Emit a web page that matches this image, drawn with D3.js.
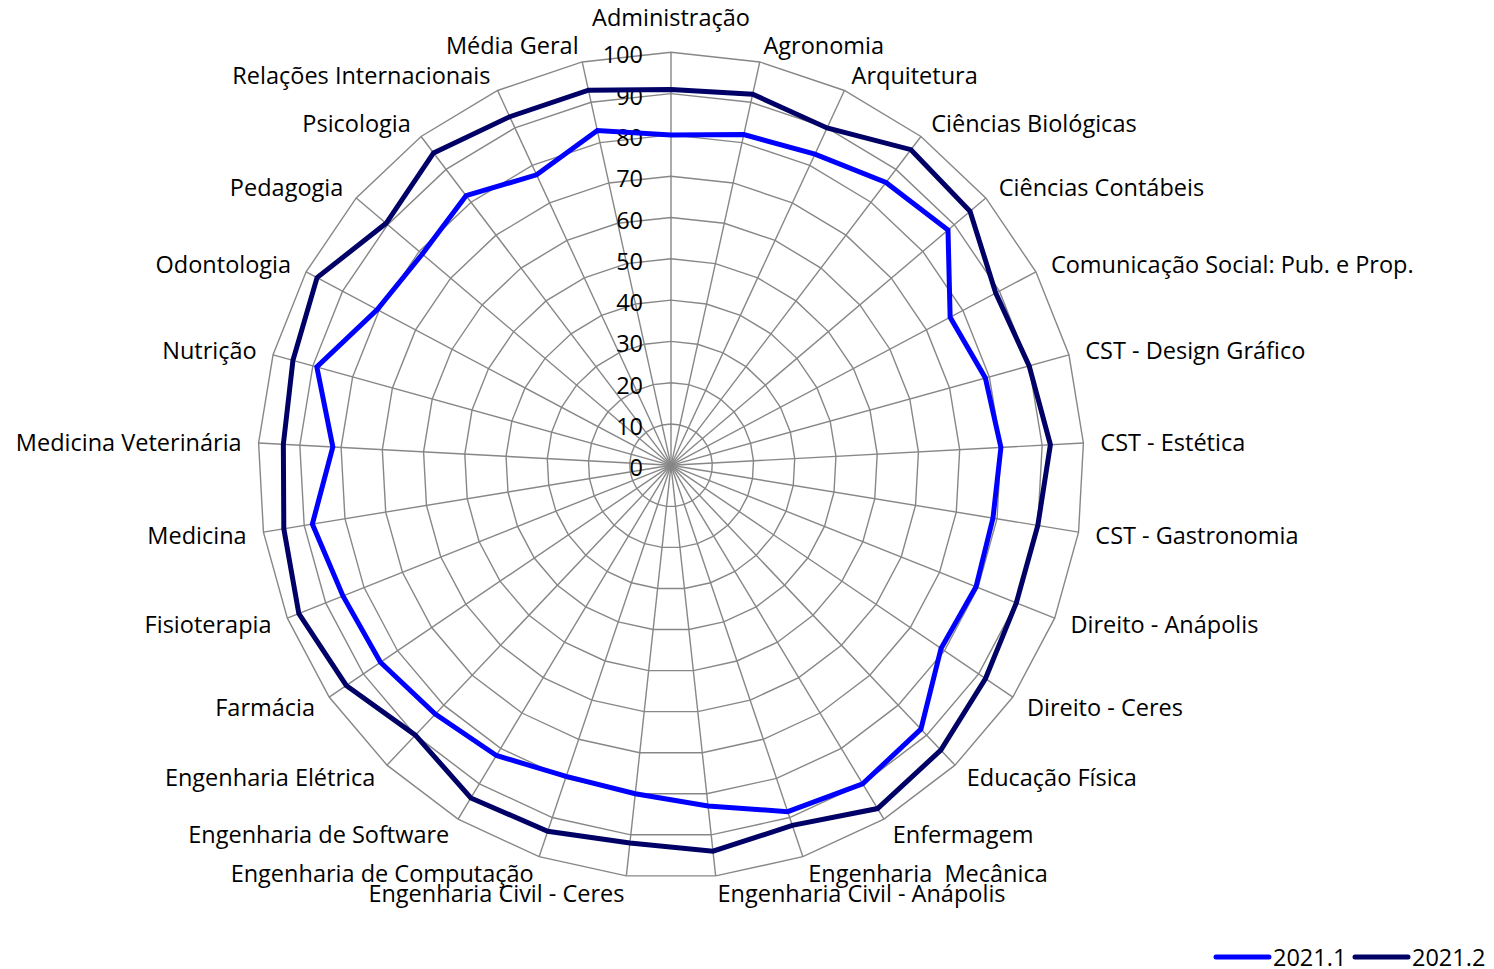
<!DOCTYPE html>
<html lang="pt">
<head>
<meta charset="utf-8">
<script src="https://cdn.jsdelivr.net/npm/d3@7"></script>
<style>
  html, body { margin: 0; padding: 0; background: #ffffff; }
  svg { display: block; }
  text { font-family: "Open Sans", "Noto Sans", sans-serif; fill: #000; white-space: pre; }
</style>
</head>
<body>
<svg id="chart" width="1494" height="969"></svg>
<script>
// Cursos avaliados (eixos do radar, no sentido horário a partir do topo)
const categories = [
  "Administração", "Agronomia", "Arquitetura", "Ciências Biológicas",
  "Ciências Contábeis", "Comunicação Social: Pub. e Prop.", "CST - Design Gráfico",
  "CST - Estética", "CST - Gastronomia", "Direito - Anápolis", "Direito - Ceres",
  "Educação Física", "Enfermagem", "Engenharia  Mecânica", "Engenharia Civil - Anápolis",
  "Engenharia Civil - Ceres", "Engenharia de Computação", "Engenharia de Software",
  "Engenharia Elétrica", "Farmácia", "Fisioterapia", "Medicina", "Medicina Veterinária",
  "Nutrição", "Odontologia", "Pedagogia", "Psicologia", "Relações Internacionais",
  "Média Geral"
];

// Índices por semestre
const values2021_1 = [
  80, 82, 83, 86, 88, 76.5, 79, 80, 79, 79.5, 79, 88, 90, 88.5, 83,
  80, 79.5, 82, 83, 85, 85.5, 88, 82, 89, 80.5, 79, 82, 77.5, 83
];
const values2021_2 = [
  91, 92, 90, 96, 95, 89, 90, 92, 90, 90, 92, 95, 97, 92, 94,
  92, 93.5, 94, 90, 95, 97, 95, 94, 95, 97, 90.5, 95, 93, 93
];

const seriesNames = ["2021.1", "2021.2"];
const seriesColors = ["#0000ff", "#000066"];
const tickValues = [0, 10, 20, 30, 40, 50, 60, 70, 80, 90, 100];

const svg = d3.select("#chart");
const width = 1494, height = 969;
svg.append("rect").attr("width", width).attr("height", height).attr("fill", "#ffffff");

const cx = 671, cy = 465.3, R = 413;
const N = categories.length;
const fontSize = 23.5;

const rScale = d3.scaleLinear().domain([0, 100]).range([0, R]);
const aScale = d3.scaleLinear().domain([0, N]).range([0, 2 * Math.PI]);

const g = svg.append("g").attr("transform", `translate(${cx},${cy})`);

const pt = (i, v) => {
  const a = aScale(i), r = rScale(v);
  return [r * Math.sin(a), -r * Math.cos(a)];
};

// Grade: polígonos concêntricos
const grid = g.append("g").attr("class", "grid");
tickValues.filter(t => t > 0).forEach(t => {
  const ring = d3.range(N).map(i => pt(i, t));
  grid.append("path")
    .attr("d", d3.line().curve(d3.curveLinearClosed)(ring))
    .attr("fill", "none")
    .attr("stroke", "#878787")
    .attr("stroke-width", 1.4);
});

// Raios
d3.range(N).forEach(i => {
  const [x, y] = pt(i, 100);
  grid.append("line")
    .attr("x1", 0).attr("y1", 0).attr("x2", x).attr("y2", y)
    .attr("stroke", "#878787")
    .attr("stroke-width", 1.4);
});

// Rótulos do eixo radial
g.append("g").selectAll("text")
  .data(tickValues)
  .join("text")
  .attr("x", -28)
  .attr("y", d => -rScale(d) + 2)
  .attr("text-anchor", "end")
  .attr("dominant-baseline", "central")
  .attr("font-size", fontSize)
  .text(d => d);

// Séries
const lineRadial = d3.lineRadial()
  .angle((d, i) => aScale(i))
  .radius(d => rScale(d))
  .curve(d3.curveLinearClosed);

[values2021_1, values2021_2].forEach((vals, k) => {
  g.append("path")
    .datum(vals)
    .attr("d", lineRadial)
    .attr("fill", "none")
    .attr("stroke", seriesColors[k])
    .attr("stroke-width", 5)
    .attr("stroke-linejoin", "miter");
});

// Rótulos das categorias
const labelGap = 17;
g.append("g").selectAll("text")
  .data(categories)
  .join("text")
  .each(function (d, i) {
    const a = aScale(i);
    const s = Math.sin(a), c = Math.cos(a);
    const r = rScale(100) + labelGap;
    let x = r * s, y = -r * c;
    let anchor = "start";
    if (Math.abs(s) < 0.01) { anchor = "middle"; y -= 18; }
    else if (s < 0) anchor = "end";
    d3.select(this)
      .attr("x", x)
      .attr("y", y)
      .attr("text-anchor", anchor)
      .attr("dominant-baseline", "central")
      .attr("font-size", fontSize)
      .text(d);
  });

// Legenda
const legend = svg.append("g").attr("transform", "translate(1214,957)");
const legendItems = [
  { name: seriesNames[0], color: seriesColors[0], x: 0 },
  { name: seriesNames[1], color: seriesColors[1], x: 139 }
];
legendItems.forEach(it => {
  legend.append("line")
    .attr("x1", it.x + 2).attr("x2", it.x + 55)
    .attr("y1", 0).attr("y2", 0)
    .attr("stroke", it.color)
    .attr("stroke-width", 5)
    .attr("stroke-linecap", "round");
  legend.append("text")
    .attr("x", it.x + 59)
    .attr("y", 0)
    .attr("dominant-baseline", "central")
    .attr("font-size", fontSize)
    .text(it.name);
});
</script>
</body>
</html>
